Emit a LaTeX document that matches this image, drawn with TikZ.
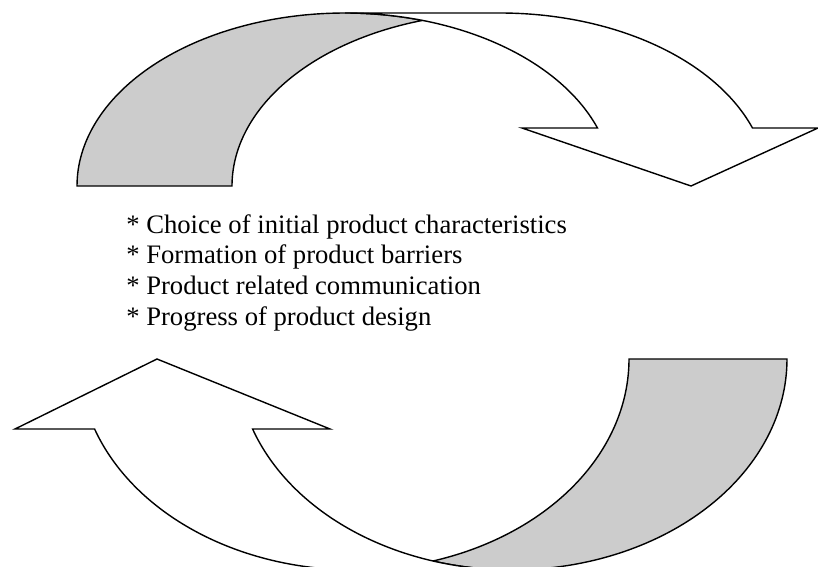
\documentclass[tikz,border=0pt]{standalone}
\usepackage{fontspec}
\setmainfont{Liberation Serif}
\definecolor{backgray}{RGB}{204,204,204}
\tikzset{
  shapeline/.style={draw=black, line width=1.05pt, line join=miter},
  backpart/.style={shapeline, fill=backgray},
  frontpart/.style={shapeline, fill=white},
  itemtext/.style={anchor=base west, inner sep=0pt, font=\fontsize{20}{23}\selectfont}
}
\begin{document}
\begin{tikzpicture}[x=0.75pt, y=-0.75pt]
\useasboundingbox (0,0) rectangle (818,567);
\clip (0,0) rectangle (818,567);
% ---- top curved arrow ----
\path[backpart]
  plot[domain=73.19:180, samples=80] ({345+268*cos(\x)}, {186-173*sin(\x)})
  -- (232,186)
  -- plot[domain=180:106.81, samples=80] ({500+268*cos(\x)}, {186-173*sin(\x)})
  -- cycle;
\path[frontpart]
  (691,186) -- (522,128)
  -- plot[domain=19.59:90, samples=80] ({345+268*cos(\x)}, {186-173*sin(\x)})
  -- (500,13)
  -- plot[domain=90:19.59, samples=80] ({500+268*cos(\x)}, {186-173*sin(\x)})
  -- (818,128) -- cycle;
% ---- bottom curved arrow ----
\path[backpart]
  plot[domain=0:73.3, samples=80] ({354+275*cos(\x)}, {359+210.9*sin(\x)})
  -- plot[domain=106.7:0, samples=80] ({512+275*cos(\x)}, {359+210.9*sin(\x)})
  -- cycle;
\path[frontpart]
  (157,359) -- (330,429)
  -- plot[domain=160.61:90, samples=80] ({512+275*cos(\x)}, {359+210.9*sin(\x)})
  -- (354,569.9)
  -- plot[domain=90:160.61, samples=80] ({354+275*cos(\x)}, {359+210.9*sin(\x)})
  -- (15,429) -- cycle;
% ---- text ----
\node[itemtext] (l1) at (126,233) {* Choice of initial product characteristics};
\node[itemtext] (l2) at (126,263.7) {* Formation of product barriers};
\node[itemtext] (l3) at (126,294.4) {* Product related communication};
\node[itemtext] (l4) at (126,325.1) {* Progress of product design};
\end{tikzpicture}
\end{document}
